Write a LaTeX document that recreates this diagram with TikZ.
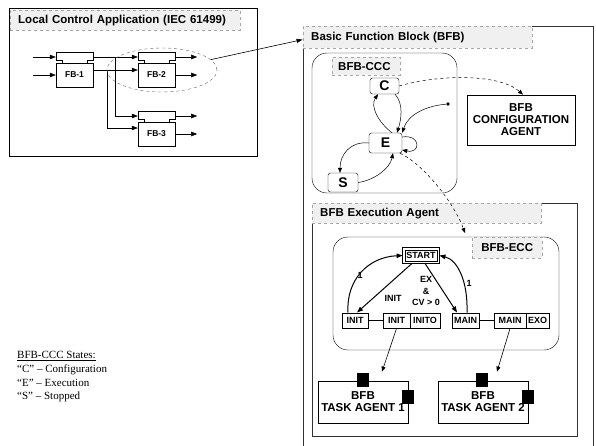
\documentclass[tikz,border=0pt]{standalone}
\usepackage{fontspec}
\setmainfont{Liberation Serif}
\setsansfont{Liberation Sans}
\usetikzlibrary{arrows.meta,positioning,shapes.geometric}

\newcommand{\lblfont}{\sffamily\bfseries\fontsize{11.5}{12}\selectfont}
\newcommand{\smallfont}{\sffamily\bfseries\fontsize{9}{11.5}\selectfont}

% function block: name, left x, top y, label
\newcommand{\fblock}[4]{%
  \node[fbbody] (#1) at (#2+18.5,#3+23) {#4};
  \node[inner sep=0pt, minimum width=37pt, minimum height=10pt] (#1e) at (#2+18.5,#3+5) {};
  \draw[thin] (#2+6,#3+11) -- (#2+6,#3+8) -- (#2,#3+8) -- (#2,#3) -- (#2+37,#3)
        -- (#2+37,#3+8) -- (#2+31,#3+8) -- (#2+31,#3+11);
}

\tikzset{
  flow/.style={-{Triangle[length=6pt,width=4.5pt]}},
  thinflow/.style={line width=0.5pt,-{Triangle[length=5pt,width=4pt]}},
  frame/.style={draw, line width=0.8pt, inner sep=0pt},
  tag/.style={draw=gray!70, dashed, fill=gray!12, anchor=north west, inner xsep=8pt,
    inner ysep=0pt, align=left, font=\lblfont},
  fbbody/.style={draw, thin, minimum width=37pt, minimum height=24pt, inner sep=0pt,
    font=\sffamily\bfseries\fontsize{8.5}{9}\selectfont},
  ccs/.style={draw, rounded corners=2.5pt, inner sep=0pt,
    font=\sffamily\bfseries\fontsize{14}{14}\selectfont},
  ecs/.style={draw, line width=1pt, minimum height=15pt, inner sep=0pt, font=\smallfont},
  lab/.style={font=\smallfont, inner sep=0pt, align=center},
  agent/.style={draw, line width=0.8pt, align=center, inner sep=0pt, font=\lblfont},
  sq/.style={fill, minimum width=12pt, minimum height=14pt, inner sep=0pt}
}

\begin{document}
\begin{tikzpicture}[x=1pt,y=-1pt]
    \useasboundingbox (0,0) rectangle (596,445);

    % Local control application
    \node[frame, minimum width=248pt, minimum height=148pt] (lca) at (133,82) {};
    \node[tag, text width=214pt, minimum height=20pt] (lcatag) at (10,10) {Local Control Application (IEC 61499)};

    \fblock{fb1}{56}{52}{FB-1}
    \fblock{fb2}{138}{52}{FB-2}
    \fblock{fb3}{138}{111}{FB-3}

    \coordinate (in1) at (33,57);
    \coordinate (in2) at (33,75);
    \coordinate (br1) at (115,57);
    \coordinate (br2) at (107,70);
    \draw[flow] (in1) -- (fb1e.west);
    \draw[flow] (in2) -- (fb1.west);
    \draw[flow] (fb1e.east) -- (fb2e.west);
    \draw[flow] ([yshift=5pt]fb1.east) -- ([yshift=5pt]fb2.west);
    \draw[flow] (br1) |- (fb3e.west);
    \draw[flow] (br2) |- ([yshift=6pt]fb3.west);
    \draw[flow] (fb2e.east) -- +(22,0);
    \draw[flow] (fb2.east) -- +(22,0);
    \draw[flow] (fb3e.east) -- +(22,0);
    \draw[flow] (fb3.east) -- +(22,0);

    % Selected block
    \node[ellipse, draw=black!60, dashed, minimum width=110pt, minimum height=44pt] (sel) at (162,70) {};

    % Basic function block
    \node[frame, draw=black!80, minimum width=290pt, minimum height=424pt] (bfb) at (448,238) {};
    \node[tag, text width=213pt, minimum height=22pt] (bfbtag) at (303,26) {Basic Function Block (BFB)};
    \draw[line width=0.6pt,-{Triangle[length=6pt,width=4pt]}] (sel.12) -- ([yshift=-14pt]bfb.north west);

    % BFB-CCC
    \node[draw, rounded corners=15pt, minimum width=145pt, minimum height=140pt] (ccc) at (384.5,123) {};
    \node[tag, inner xsep=6pt, text width=56pt, minimum height=18pt] (ccctag) at (332,57) {BFB-CCC};
    \node[ccs, minimum width=29pt, minimum height=16pt] (C) at (384.5,86) {C};
    \node[ccs, minimum width=33pt, minimum height=20pt] (E) at (385.5,143) {E};
    \node[ccs, minimum width=30pt, minimum height=19pt] (S) at (343,182.5) {S};
    \node[circle, fill, inner sep=1.4pt] (dot) at (448,104) {};

    \draw[thinflow] ([xshift=6.5pt]E.north) .. controls (378,122) and (370,106) .. ([xshift=-6.5pt]C.south);
    \draw[thinflow] ([xshift=10.5pt]C.south) .. controls (404,104) and (401,120) .. ([xshift=11.5pt]E.north);
    \draw[thinflow] (dot) .. controls (425,106) and (408,115) .. (E.north east);
    \draw[thinflow] ([yshift=6pt]E.east) .. controls (421,134) and (421,154) .. ([yshift=-7pt]E.east);
    \draw[thinflow] (E.west) .. controls (350,141) and (340,155) .. ([xshift=-3pt]S.north);
    \draw[thinflow] (S.east) .. controls (375,180) and (390,168) .. ([xshift=7.5pt]E.south);

    % Configuration agent
    \node[agent, minimum width=108pt, minimum height=50pt] (cfg) at (521,120) {BFB\\CONFIGURATION\\AGENT};
    \draw[thinflow, dashed] (C.east) .. controls (440,74) and (500,74) .. ([xshift=2pt]cfg.north);

    % BFB execution agent
    \node[frame, draw=black!80, minimum width=265pt, minimum height=233pt] (exa) at (444.5,319.5) {};
    \node[tag, text width=213pt, minimum height=20pt] (exatag) at (312,203) {BFB Execution Agent};

    % BFB-ECC
    \node[draw, rounded corners=15pt, minimum width=226pt, minimum height=113pt] (ecc) at (446,293.5) {};
    \node[tag, inner xsep=6pt, text width=58pt, minimum height=21pt, align=center] (ecctag) at (472,237) {BFB-ECC};
    \draw[thinflow, dashed] ([xshift=14.5pt]E.south) .. controls (425,165) and (455,205) .. ([xshift=-7pt,yshift=4pt]ecctag.north west);

    \node[ecs, line width=0.8pt, minimum width=32pt, minimum height=11pt] (start) at (421,255.5) {START};
    \draw[line width=0.8pt] ([shift={(-2pt,2pt)}]start.north west) rectangle ([shift={(2pt,-2pt)}]start.south east);
    \node[ecs, minimum width=26pt] (init) at (355,320.5) {INIT};
    \node[ecs, minimum width=27pt] (ia) at (396.5,320.5) {INIT};
    \node[ecs, minimum width=30pt] (iao) at (425,320.5) {INITO};
    \node[ecs, minimum width=27pt] (main) at (465.5,320.5) {MAIN};
    \node[ecs, minimum width=32pt] (ma) at (510,320.5) {MAIN};
    \node[ecs, minimum width=23pt] (mao) at (537.5,320.5) {EXO};
    \draw[line width=0.8pt] (init) -- (ia);
    \draw[line width=0.8pt] (main) -- (ma);

    \draw[flow, line width=1pt] ([xshift=-7pt]init.north) .. controls (346,280) and (368,257) .. ([xshift=-2pt]start.west);
    \draw[flow, line width=1pt] ([xshift=-9pt,yshift=-2pt]start.south) -- ([xshift=2pt]init.north);
    \draw[flow, line width=1pt] ([xshift=4pt,yshift=-2pt]start.south) -- ([xshift=-8.5pt]main.north);
    \draw[flow, line width=1pt] ([xshift=1.5pt]main.north) .. controls (468,282) and (458,260) .. ([xshift=2pt]start.east);
    \node[lab] (l1) at (360,275) {1};
    \node[lab] (l2) at (393,298) {INIT};
    \node[lab] (l3) at (426,291) {EX\\\&\\CV > 0};
    \node[lab] (l4) at (469,283) {1};

    % Task agents
    \node[agent, minimum width=90pt, minimum height=42pt] (ta1) at (363,402) {BFB\\TASK AGENT 1};
    \node[agent, minimum width=90pt, minimum height=42pt] (ta2) at (483,402) {BFB\\TASK AGENT 2};
    \node[sq] (ta1t) at (363,380) {};
    \node[sq] (ta1r) at (407.5,397) {};
    \node[sq] (ta2t) at (482,380) {};
    \node[sq] (ta2r) at (527.5,397) {};
    \draw[thinflow, line width=0.6pt] (ia.south) -- ([xshift=19pt,yshift=9pt]ta1.north);
    \draw[thinflow, line width=0.6pt] (ma.south) -- ([xshift=14pt,yshift=9pt]ta2.north);

    % Legend
    \node[anchor=north west, inner sep=0pt, align=left, font=\rmfamily\fontsize{11}{13.8}\selectfont] (legend) at (17,351)
      {\underline{BFB-CCC States:}\\“C” – Configuration\\“E” – Execution\\“S” – Stopped};
\end{tikzpicture}
\end{document}
